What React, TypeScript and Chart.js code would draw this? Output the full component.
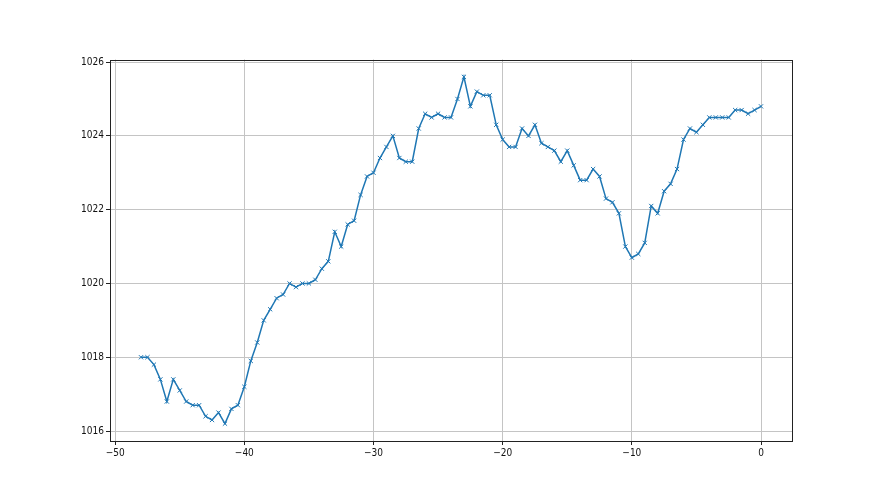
import React, { useEffect, useRef } from "react";
import { Chart, registerables } from "chart.js";

Chart.register(...registerables);

const xValues: number[] = [
  -48, -47.5, -47, -46.5, -46, -45.5, -45, -44.5, -44, -43.5,
  -43, -42.5, -42, -41.5, -41, -40.5, -40, -39.5, -39, -38.5,
  -38, -37.5, -37, -36.5, -36, -35.5, -35, -34.5, -34, -33.5,
  -33, -32.5, -32, -31.5, -31, -30.5, -30, -29.5, -29, -28.5,
  -28, -27.5, -27, -26.5, -26, -25.5, -25, -24.5, -24, -23.5,
  -23, -22.5, -22, -21.5, -21, -20.5, -20, -19.5, -19, -18.5,
  -18, -17.5, -17, -16.5, -16, -15.5, -15, -14.5, -14, -13.5,
  -13, -12.5, -12, -11.5, -11, -10.5, -10, -9.5, -9, -8.5,
  -8, -7.5, -7, -6.5, -6, -5.5, -5, -4.5, -4, -3.5,
  -3, -2.5, -2, -1.5, -1, -0.5, 0,
];

const pressure: number[] = [
  1018.0, 1018.0, 1017.8, 1017.4, 1016.8, 1017.4, 1017.1, 1016.8, 1016.7, 1016.7,
  1016.4, 1016.3, 1016.5, 1016.2, 1016.6, 1016.7, 1017.2, 1017.9, 1018.4, 1019.0,
  1019.3, 1019.6, 1019.7, 1020.0, 1019.9, 1020.0, 1020.0, 1020.1, 1020.4, 1020.6,
  1021.4, 1021.0, 1021.6, 1021.7, 1022.4, 1022.9, 1023.0, 1023.4, 1023.7, 1024.0,
  1023.4, 1023.3, 1023.3, 1024.2, 1024.6, 1024.5, 1024.6, 1024.5, 1024.5, 1025.0,
  1025.6, 1024.8, 1025.2, 1025.1, 1025.1, 1024.3, 1023.9, 1023.7, 1023.7, 1024.2,
  1024.0, 1024.3, 1023.8, 1023.7, 1023.6, 1023.3, 1023.6, 1023.2, 1022.8, 1022.8,
  1023.1, 1022.9, 1022.3, 1022.2, 1021.9, 1021.0, 1020.7, 1020.8, 1021.1, 1022.1,
  1021.9, 1022.5, 1022.7, 1023.1, 1023.9, 1024.2, 1024.1, 1024.3, 1024.5, 1024.5,
  1024.5, 1024.5, 1024.7, 1024.7, 1024.6, 1024.7, 1024.8,
];

const xTicks: number[] = [-50, -40, -30, -20, -10, 0];
const yTicks: number[] = [1016, 1018, 1020, 1022, 1024, 1026];

const fmt = (v: number) => (v < 0 ? "\u2212" + String(Math.abs(v)) : String(v));

const FONT = "'Liberation Sans Narrow', 'DejaVu Sans Condensed', 'DejaVu Sans', sans-serif";

const framePlugin = {
  id: "frame",
  afterDatasetsDraw(chart: any) {
    const { ctx, chartArea } = chart;
    ctx.save();
    ctx.strokeStyle = "#222";
    ctx.lineWidth = 1;
    ctx.strokeRect(
      Math.round(chartArea.left) + 0.5,
      Math.round(chartArea.top) + 0.5,
      Math.round(chartArea.right) - Math.round(chartArea.left),
      Math.round(chartArea.bottom) - Math.round(chartArea.top)
    );
    ctx.restore();
  },
};

export default function App() {
  const ref = useRef<HTMLCanvasElement | null>(null);

  useEffect(() => {
    if (!ref.current) return;
    const chart = new Chart(ref.current, {
      type: "line",
      data: {
        datasets: [
          {
            data: xValues.map((x, i) => ({ x, y: pressure[i] })),
            borderColor: "#1f77b4",
            backgroundColor: "#1f77b4",
            borderWidth: 1.5,
            pointStyle: "crossRot",
            pointRadius: 3,
            pointBorderWidth: 1,
            pointBorderColor: "#1f77b4",
            pointHoverRadius: 3,
            tension: 0,
            fill: false,
          },
        ],
      },
      options: {
        responsive: false,
        animation: false,
        events: [],
        layout: { padding: { left: 0, right: 88, top: 59.5, bottom: 0 } },
        plugins: {
          legend: { display: false },
          tooltip: { enabled: false },
          title: { display: false },
        },
        scales: {
          x: {
            type: "linear",
            min: -50.4,
            max: 2.4,
            afterBuildTicks: (scale: any) => {
              scale.ticks = xTicks.map((v) => ({ value: v }));
            },
            afterFit: (scale: any) => {
              scale.height = 54;
            },
            grid: {
              color: "#c4c4c4",
              lineWidth: 1,
              tickColor: "#222",
              tickLength: 4,
              drawTicks: true,
            },
            border: { display: false },
            ticks: {
              color: "#111",
              padding: 2,
              maxRotation: 0,
              autoSkip: false,
              font: { family: FONT, size: 10 },
              callback: (v: any) => fmt(Number(v)),
            },
          },
          y: {
            type: "linear",
            min: 1015.73,
            max: 1026.07,
            afterBuildTicks: (scale: any) => {
              scale.ticks = yTicks.map((v) => ({ value: v }));
            },
            afterFit: (scale: any) => {
              scale.width = 110;
            },
            grid: {
              color: "#c4c4c4",
              lineWidth: 1,
              tickColor: "#222",
              tickLength: 4,
              drawTicks: true,
            },
            border: { display: false },
            ticks: {
              color: "#111",
              padding: 2,
              autoSkip: false,
              font: { family: FONT, size: 10 },
              callback: (v: any) => fmt(Number(v)),
            },
          },
        },
      },
      plugins: [framePlugin],
    });
    return () => chart.destroy();
  }, []);

  return (
    <div style={{ position: "fixed", left: 0, top: 0, width: 880, height: 495, background: "#fff" }}>
      <canvas ref={ref} width={880} height={495} style={{ display: "block" }} />
    </div>
  );
}
